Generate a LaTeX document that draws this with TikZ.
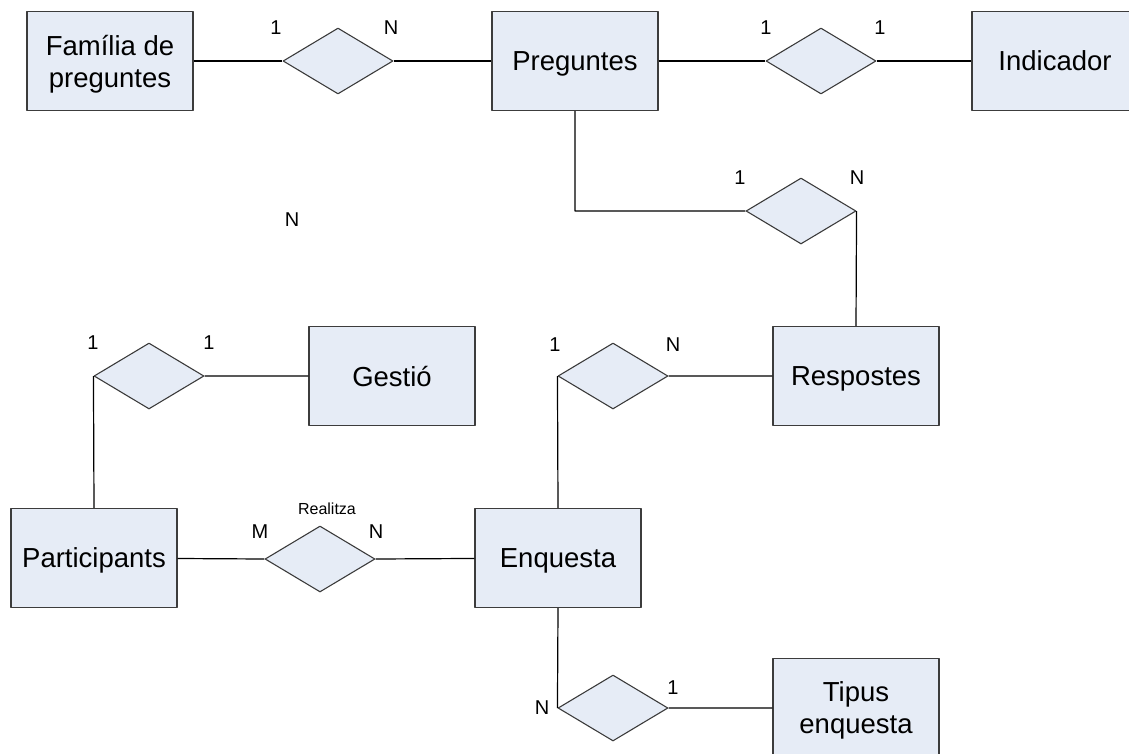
\documentclass[tikz,border=0pt]{standalone}
\usepackage{fontspec}
\setmainfont{Liberation Sans}
\usetikzlibrary{shapes.geometric}
\definecolor{entfill}{RGB}{230,236,246}
\definecolor{entline}{RGB}{60,60,60}
\tikzset{
  entity/.style={draw=entline,fill=entfill,line width=1.2pt,minimum width=166pt,
    minimum height=99pt,inner sep=0pt,align=center,text depth=0pt,
    font=\fontsize{27.5}{32}\selectfont},
  rel/.style={draw=entline,fill=entfill,line width=1.1pt,diamond,aspect=1.67,
    minimum width=110pt,minimum height=66pt,inner sep=0pt},
  card/.style={font=\fontsize{20}{22}\selectfont,inner sep=0pt},
  conn/.style={line width=1.2pt,black}
}
\begin{document}
\begin{tikzpicture}[x=1pt,y=-1pt,line join=round]
    \useasboundingbox (0,0) rectangle (1129,753);
    % entitats
    \node[entity] (fam) at (110,61) {Família de\\preguntes};
    \node[entity] (preg) at (575,61) {Preguntes};
    \node[entity] (ind) at (1055,61) {Indicador};
    \node[entity] (gest) at (392,376) {Gestió};
    \node[entity] (resp) at (856,376) {Respostes};
    \node[entity] (part) at (94,558) {Participants};
    \node[entity] (enq) at (558,558) {Enquesta};
    \node[entity] (tip) at (856,708) {Tipus\\enquesta};
    % relacions
    \node[rel] (r1) at (338,61) {};
    \node[rel] (r2) at (821,61) {};
    \node[rel] (r3) at (801,211) {};
    \node[rel] (r4) at (613,376) {};
    \node[rel] (r5) at (149,376) {};
    \node[rel] (r6) at (320,559) {};
    \node[rel] (r7) at (613,708) {};
    % connexions
    \draw[conn] (fam) -- (r1.west) (r1.east) -- (preg);
    \draw[conn] (preg) -- (r2.west) (r2.east) -- (ind);
    \draw[conn] (preg.south) |- (r3.west) (r3.east) -- (resp.north);
    \draw[conn] (resp) -- (r4.east) (r4.west) -- (enq.north);
    \draw[conn] (gest) -- (r5.east) (r5.west) -- (part.north);
    \draw[conn] (part) -- (r6.west) (r6.east) -- (enq);
    \draw[conn] (enq.south) -- (r7.west) (r7.east) -- (tip);
    % cardinalitats
    \node[card] (c1a) at (276,28) {1};
    \node[card] (c1b) at (391,28) {N};
    \node[card] (c2a) at (766,28) {1};
    \node[card] (c2b) at (880,28) {1};
    \node[card] (c3a) at (740,178) {1};
    \node[card] (c3b) at (857,178) {N};
    \node[card] (c4a) at (555,345) {1};
    \node[card] (c4b) at (673,345) {N};
    \node[card] (c5a) at (93,343) {1};
    \node[card] (c5b) at (209,343) {1};
    \node[card] (c6a) at (260,532) {M};
    \node[card] (c6b) at (376,532) {N};
    \node[card] (c7a) at (542,708) {N};
    \node[card] (c7b) at (673,688) {1};
    \node[card] (cx) at (292,220) {N};
    \node[font=\fontsize{16}{18}\selectfont,inner sep=0pt] (realitza) at (327,509) {Realitza};
\end{tikzpicture}
\end{document}
